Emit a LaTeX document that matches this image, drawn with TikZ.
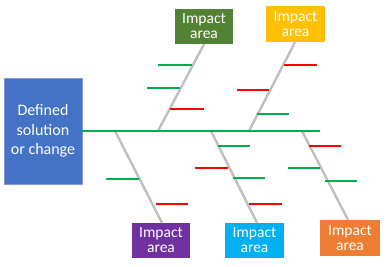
\documentclass[tikz,border=0pt]{standalone}
\usepackage{fontspec}
\setmainfont{Carlito}
\usepackage{xcolor}
\usepackage{tikz}
\usetikzlibrary{positioning,calc}
\definecolor{goalclr}{RGB}{68,114,196}
\definecolor{leafclr}{RGB}{84,130,53}
\definecolor{goldclr}{RGB}{255,192,0}
\definecolor{plumclr}{RGB}{112,48,160}
\definecolor{skyclr}{RGB}{0,176,240}
\definecolor{rustclr}{RGB}{237,125,49}
\definecolor{boneclr}{RGB}{191,191,191}
\definecolor{okclr}{RGB}{0,176,80}
\definecolor{badclr}{RGB}{255,0,0}
\tikzset{
    goal/.style={rectangle,fill=goalclr,draw=goalclr!70!white,text=white,align=center,
        minimum width=78pt,minimum height=106pt,inner sep=1pt,
        font=\fontsize{16}{19.5}\selectfont},
    area/.style={rectangle,text=white,align=center,minimum width=58pt,minimum height=35pt,
        inner sep=1pt,font=\fontsize{15.5}{15}\selectfont},
    bone/.style={draw=boneclr,line width=2.4pt},
    spine/.style={draw=okclr,line width=2.4pt},
    ribok/.style={draw=okclr,line width=1.8pt},
    ribbad/.style={draw=badclr,line width=1.8pt},
}
\begin{document}
\begin{tikzpicture}[x=1pt,y=-1pt]
\useasboundingbox (0,0) rectangle (386,267);
\node[goal] (Goal) at (43,131) {Defined\\solution\\or change};

\node[area,fill=leafclr] (Leaf) at (204,26.5)   {Impact\\area};
\node[area,fill=goldclr,minimum width=59pt,minimum height=36pt] (Gold) at (295.5,24) {Impact\\area};
\node[area,fill=plumclr] (Plum) at (161,240.5)  {Impact\\area};
\node[area,fill=skyclr,minimum width=59pt] (Sky) at (254.5,240.5) {Impact\\area};
\node[area,fill=rustclr,minimum width=60pt,minimum height=36pt] (Rust) at (350,238) {Impact\\area};

% joints on the spine
\coordinate (J1) at (158,131);
\coordinate (J2) at (249,131);
\coordinate (J3) at (115,131);
\coordinate (J4) at (211,131);
\coordinate (J5) at (302,131);
\coordinate (Tail) at (320,131);

\draw[bone] (Leaf.south) -- (J1);
\draw[bone] ([xshift=-0.5pt]Gold.south) -- (J2);
\draw[bone] ([xshift=1pt]Plum.north) -- (J3);
\draw[bone] ([xshift=2.5pt]Sky.north) -- (J4);
\draw[bone] ([xshift=-2pt]Rust.north) -- (J5);
\draw[spine] (Goal.east) -- (Tail);

% ribs
\foreach \y/\xa/\xb in {65/158/192,88/147/180,114/257/289,179/106/139,146/218/250,178/233/265,168/288/320,181/325/357}
  \draw[ribok] (\xa,\y) -- (\xb,\y);
\foreach \y/\xa/\xb in {109/170/204,65/284/317,90/237/269,204/156/188,168/195/228,204/249/282,146/309/341}
  \draw[ribbad] (\xa,\y) -- (\xb,\y);
\end{tikzpicture}
\end{document}
